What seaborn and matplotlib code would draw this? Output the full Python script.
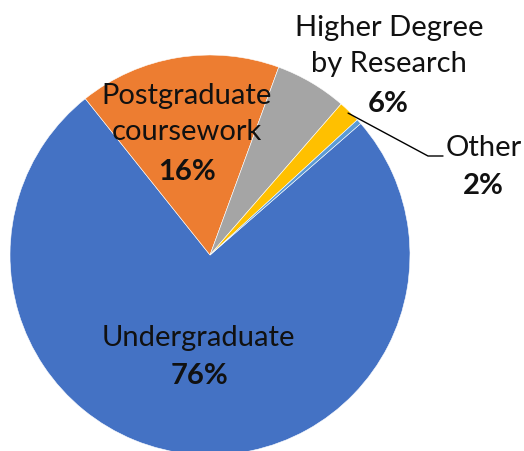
import numpy as np
import matplotlib
matplotlib.use("Agg")
import matplotlib.pyplot as plt
import seaborn as sns

categories = ['Undergraduate', 'Postgraduate\ncoursework', 'Higher Degree\nby Research', 'Other', '']
shares = [75.7, 16.3, 5.8, 1.8, 0.4]
pct_labels = ['76%', '16%', '6%', '2%', '']
colors = ['#4472C4', '#ED7D31', '#A5A5A5', '#FFC000', '#5B9BD5']

sns.set_style('white')
plt.rcParams['font.family'] = ['Lato', 'DejaVu Sans']

fig = plt.figure(figsize=(5.24, 4.52), dpi=100)
ax = fig.add_axes([0, 0, 1, 1])

wedges, _ = ax.pie(shares, colors=colors, startangle=41.1, counterclock=False,
                   radius=1, wedgeprops=dict(edgecolor='white', linewidth=0.4))

ax.set_xlim(-1.05, 1.57)
ax.set_ylim(-0.98, 1.28)
ax.set_aspect('equal')
ax.axis('off')


def px(x, y):
    # pixel position of the reference -> data units (centre 210,256, radius 200)
    return (x - 210) / 200, (256 - y) / 200


fs = 21
# name + value positions (pixel centres)
spots = {
    0: ((198, 338), (199, 376)),
    1: ((187, 114), (187, 172)),
    2: ((389, 46), (388, 104)),
    3: ((484, 148), (483, 186)),
}
for i, ((nx, ny), (vx, vy)) in spots.items():
    ax.text(*px(nx, ny), categories[i], ha='center', va='center', fontsize=fs,
            linespacing=1.5, color='#111111')
    ax.text(*px(vx, vy), pct_labels[i], ha='center', va='center', fontsize=fs,
            fontweight='bold', color='#111111')

# leader line for "Other"
w = wedges[3]
mid = np.deg2rad((w.theta1 + w.theta2) / 2)
x0, y0 = 0.99 * np.cos(mid), 0.99 * np.sin(mid)
x1, y1 = px(428, 157)
x2, y2 = px(443, 157)
ax.plot([x0, x1, x2], [y0, y1, y2], color='black', lw=1)

fig.savefig('out.png', dpi=100)
